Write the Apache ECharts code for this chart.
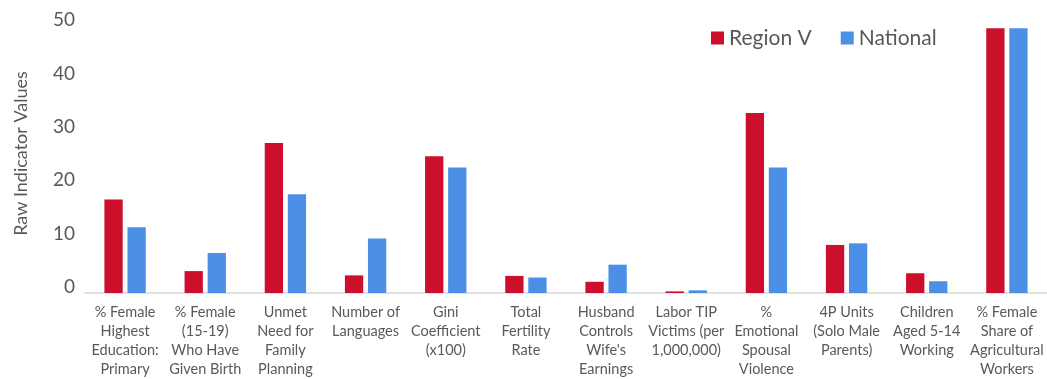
<!DOCTYPE html>
<html>
<head>
<meta charset="utf-8">
<script src="https://cdn.jsdelivr.net/npm/echarts@6/dist/echarts.min.js"></script>
<style>
  html, body { margin: 0; padding: 0; background: #ffffff; }
  #chart { width: 1047px; height: 379px; }
</style>
</head>
<body>
<div id="chart"></div>
<script>
// Indicator categories (line breaks as shown under each group)
const categories = [
  '% Female\nHighest\nEducation:\nPrimary',
  '% Female\n(15-19)\nWho Have\nGiven Birth',
  'Unmet\nNeed for\nFamily\nPlanning',
  'Number of\nLanguages',
  'Gini\nCoefficient\n(x100)',
  'Total\nFertility\nRate',
  'Husband\nControls\nWife\'s\nEarnings',
  'Labor TIP\nVictims (per\n1,000,000)',
  '%\nEmotional\nSpousal\nViolence',
  '4P Units\n(Solo Male\nParents)',
  'Children\nAged 5-14\nWorking',
  '% Female\nShare of\nAgricultural\nWorkers'
];

// Raw indicator values
const regionV  = [17.5, 4.1, 28.1, 3.3, 25.6, 3.2, 2.1, 0.3, 33.7, 9.0, 3.7, 49.6];
const national = [12.3, 7.5, 18.5, 10.2, 23.5, 2.9, 5.3, 0.5, 23.5, 9.3, 2.2, 49.6];

const seriesNames = ['Region V', 'National'];
const yTicks = { min: 0, max: 50, interval: 10 };

const FONT = 'Lato, "Open Sans", sans-serif';
const TEXT = '#595959';
const RED = '#CC0F2B';
const BLUE = '#4B90E6';

const chart = echarts.init(document.getElementById('chart'), null, { renderer: 'canvas' });

chart.setOption({
  animation: false,
  backgroundColor: '#ffffff',
  textStyle: { fontFamily: FONT, color: TEXT },
  grid: { left: 85, right: -2, top: 26, bottom: 85, containLabel: false },
  legend: {
    data: seriesNames,
    left: 706,
    top: 22,
    itemWidth: 13,
    itemHeight: 13,
    itemGap: 29,
    icon: 'rect',
    textStyle: { fontFamily: FONT, fontSize: 21, color: TEXT, lineHeight: 22 }
  },
  xAxis: {
    type: 'category',
    data: categories,
    axisTick: { show: false },
    axisLine: { lineStyle: { color: '#d9d9d9', width: 1.5 } },
    axisLabel: {
      interval: 0,
      margin: 10,
      fontFamily: FONT,
      fontSize: 14.5,
      lineHeight: 19,
      color: TEXT,
      align: 'center'
    }
  },
  yAxis: {
    type: 'value',
    min: yTicks.min,
    max: yTicks.max,
    interval: yTicks.interval,
    splitLine: { show: false },
    axisLine: { show: false },
    axisTick: { show: false },
    axisLabel: {
      margin: 10,
      fontFamily: FONT,
      fontSize: 19,
      color: TEXT,
      verticalAlign: 'bottom',
      lineHeight: 12
    },
    name: 'Raw Indicator Values',
    nameLocation: 'middle',
    nameGap: 55,
    nameTextStyle: {
      fontFamily: FONT,
      fontSize: 18,
      color: TEXT,
      padding: [0, 0, 0, 12]
    }
  },
  series: [
    {
      name: seriesNames[0],
      type: 'bar',
      data: regionV,
      itemStyle: { color: RED },
      barWidth: 18.3,
      barGap: '26%'
    },
    {
      name: seriesNames[1],
      type: 'bar',
      data: national,
      itemStyle: { color: BLUE },
      barWidth: 18.3,
      barGap: '26%'
    }
  ]
});
</script>
</body>
</html>
